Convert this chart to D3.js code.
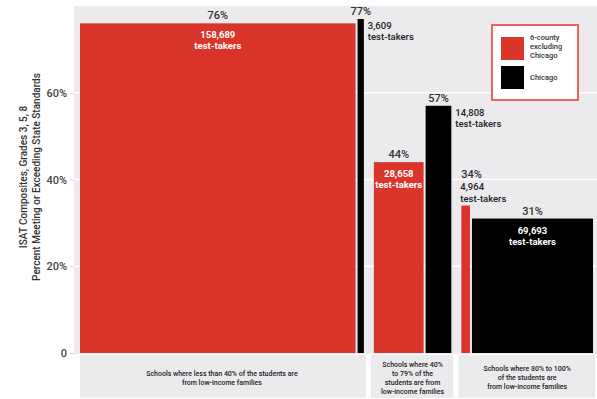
<!DOCTYPE html>
<html>
<head>
<meta charset="utf-8">
<script src="https://cdn.jsdelivr.net/npm/d3@7"></script>
<style>
  body { margin: 0; background: #fff; }
  text { font-family: Roboto, "Noto Sans", sans-serif; }
</style>
</head>
<body>
<div id="chart"></div>
<script>
// data
var groups = [
    ["Schools where less than 40% of the students are", "from low-income families"],
    ["Schools where 40%", "to 79% of the", "students are from", "low-income families"],
    ["Schools where 80% to 100%", "of the students are", "from low-income families"]
];
var series = ["6-county excluding Chicago", "Chicago"];
var legendLines = [["6-county", "excluding", "Chicago"], ["Chicago"]];
var pctSuburbs = [76, 44, 34];
var pctChicago = [77, 57, 31];
var takersSuburbs = [158689, 28658, 4964];
var takersChicago = [3609, 14808, 69693];
var yTicks = [0, 20, 40, 60];

var width = 597, height = 399;
var margin = { top: 6, right: 0, bottom: 45, left: 74 };
var barStart = 80, barEnd = 593, groupGap = 10, innerGap = 2;
var colors = ["#d9352b", "#000000"];

var svg = d3.select("#chart").append("svg").attr("width", width).attr("height", height);

// build bar list
var bars = [];
groups.forEach(function (g, i) {
    bars.push({ group: i, s: 0, pct: pctSuburbs[i], n: takersSuburbs[i] });
    bars.push({ group: i, s: 1, pct: pctChicago[i], n: takersChicago[i] });
});
var total = d3.sum(bars, d => d.n);
var barSpace = (barEnd - barStart) - groupGap * (groups.length - 1) - innerGap * (bars.length - groups.length);

var w = d3.scaleLinear().domain([0, total]).range([0, barSpace]);
var y = d3.scaleLinear().domain([0, 80]).range([height - margin.bottom - 1, margin.top]);

var cx = barStart;
bars.forEach(function (d, i) {
    if (i > 0) cx += (bars[i - 1].group === d.group) ? innerGap : groupGap;
    d.x0 = cx;
    d.x1 = cx + w(d.n);
    cx = d.x1;
});

// plot background
svg.append("rect")
    .attr("x", margin.left).attr("y", margin.top)
    .attr("width", width - margin.left).attr("height", y(0) - margin.top + 1)
    .attr("fill", "#ebebee");

// grid
svg.append("g")
    .selectAll("line")
    .data(yTicks.filter(t => t > 0))
    .join("line")
    .attr("x1", margin.left).attr("x2", width)
    .attr("y1", d => y(d)).attr("y2", d => y(d))
    .attr("stroke", "#fff").attr("stroke-width", 1.5);

// y axis
var yAxis = svg.append("g")
    .attr("transform", `translate(${margin.left},0)`)
    .call(d3.axisLeft(y).tickValues(yTicks).tickSize(4).tickPadding(3)
        .tickFormat(d => d === 0 ? "0" : d + "%"));
yAxis.select(".domain").remove();
yAxis.selectAll("line").attr("stroke", "#d4d4d8");
yAxis.selectAll("text")
    .attr("font-size", "11px")
    .attr("font-weight", 500)
    .attr("fill", "#444")
    .style("font-family", "Roboto, sans-serif");

// y title
svg.append("g")
    .attr("transform", "translate(0,177) rotate(-90)")
    .selectAll("text")
    .data(["ISAT Composites, Grades 3, 5, 8", "Percent Meeting or Exceeding State Standards"])
    .join("text")
    .attr("x", 0)
    .attr("y", (d, k) => 27 + k * 13)
    .attr("text-anchor", "middle")
    .attr("font-size", "10px")
    .attr("font-weight", 500)
    .attr("fill", "#333")
    .text(d => d);

// category label boxes
var groupExt = groups.map(function (g, i) {
    var b = bars.filter(d => d.group === i);
    return { i: i, x0: d3.min(b, d => d.x0), x1: d3.max(b, d => d.x1) };
});
svg.append("g")
    .selectAll("rect")
    .data(groupExt)
    .join("rect")
    .attr("x", d => d.i === 0 ? d.x0 : d.x0 - 3)
    .attr("width", d => d.x1 - d.x0 + (d.i === 0 ? 0 : 3) + 2)
    .attr("y", y(0) + 2)
    .attr("height", height - y(0) - 3)
    .attr("fill", "#ebebee");

var catLabels = [];
groupExt.forEach(function (d) {
    var lines = groups[d.i];
    var lh = 9;
    var top = 380 - (lines.length - 1) * lh / 2;
    lines.forEach(function (l, k) {
        catLabels.push({ x: (d.x0 + d.x1) / 2, y: top + k * lh, t: l });
    });
});
svg.append("g")
    .selectAll("text")
    .data(catLabels)
    .join("text")
    .attr("x", d => d.x)
    .attr("y", d => d.y)
    .attr("text-anchor", "middle")
    .attr("font-size", "7px")
    .attr("font-weight", 500)
    .attr("fill", "#222")
    .text(d => d.t);

// bars
svg.append("g")
    .selectAll("rect")
    .data(bars)
    .join("rect")
    .attr("x", d => d.x0)
    .attr("width", d => d.x1 - d.x0)
    .attr("y", d => y(d.pct))
    .attr("height", d => y(0) - y(d.pct))
    .attr("fill", d => colors[d.s]);

// labels
var fmt = d3.format(",");
var lab = svg.append("g");
function addText(x, yy, txt, size, weight, fill, anchor) {
    lab.append("text").attr("x", x).attr("y", yy)
        .attr("text-anchor", anchor || "start")
        .attr("font-size", size + "px").attr("font-weight", weight)
        .attr("fill", fill).text(txt);
}
bars.forEach(function (d, i) {
    var bw = d.x1 - d.x0;
    var top = y(d.pct);
    var mid = (d.x0 + d.x1) / 2;
    var lastInGroup = !bars[i + 1] || bars[i + 1].group !== d.group;
    if (bw > 40) {
        addText(mid, top - 4, d.pct + "%", 11, 500, "#333", "middle");
        addText(mid, top + 15, fmt(d.n), 9.5, 700, "#fff", "middle");
        addText(mid, top + 26, "test-takers", 9.5, 700, "#fff", "middle");
    } else if (lastInGroup) {
        addText(mid, top - 4, d.pct + "%", 11, 500, "#333", "middle");
        addText(d.x1 + 4, top + 10, fmt(d.n), 9.5, 500, "#222");
        addText(d.x1 + 4, top + 21, "test-takers", 9.5, 500, "#222");
    } else {
        addText(d.x0, top - 28, d.pct + "%", 11, 500, "#333");
        addText(d.x0 - 1, top - 16, fmt(d.n), 9.5, 500, "#222");
        addText(d.x0 - 1, top - 4, "test-takers", 9.5, 500, "#222");
    }
});

// legend
var lg = svg.append("g").attr("transform", "translate(492,25)");
lg.append("rect").attr("width", 86).attr("height", 75)
    .attr("fill", "#fff").attr("stroke", "#e8665d").attr("stroke-width", 2);
series.forEach(function (s, i) {
    lg.append("rect").attr("x", 9).attr("y", 12 + i * 29).attr("width", 23).attr("height", 23)
        .attr("fill", colors[i]);
    legendLines[i].forEach(function (l, k) {
        lg.append("text")
            .attr("x", 38).attr("y", (i === 0 ? 15 : 55) + k * 9)
            .attr("font-size", "7.5px").attr("font-weight", 500).attr("fill", "#333")
            .text(l);
    });
});
</script>
</body>
</html>
